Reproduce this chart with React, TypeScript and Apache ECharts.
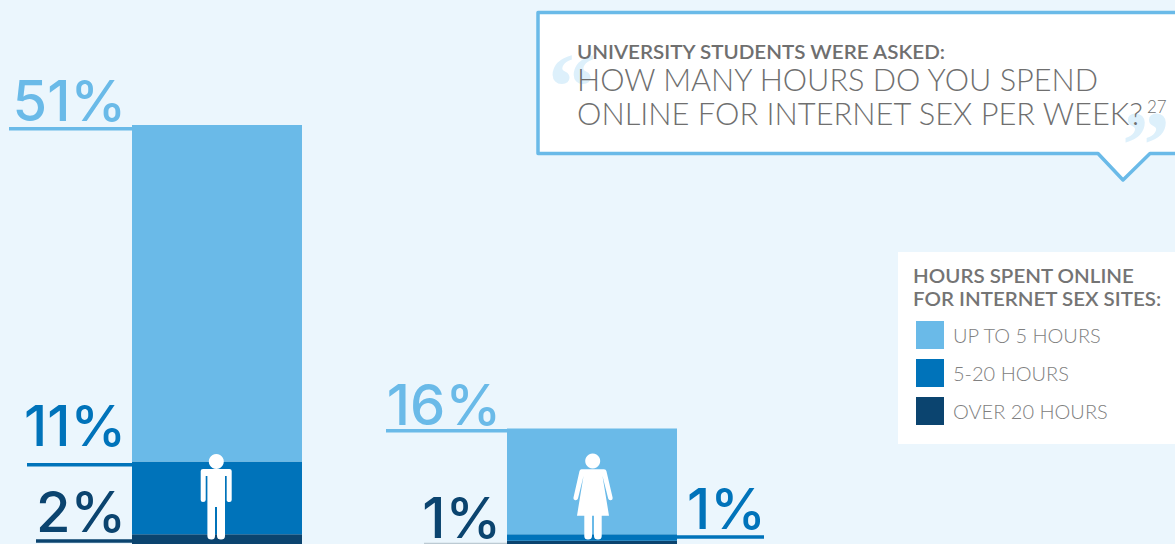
import React, { useEffect, useRef } from "react";
import * as echarts from "echarts";

const categories = ["Men", "Women"];
const upTo5 = [51, 16];
const from5to20 = [11, 1];
const over20 = [2, 1];
const legendNames = ["UP TO 5 HOURS", "5-20 HOURS", "OVER 20 HOURS"];
const colors = ["#6ABAE8", "#0073BA", "#0B446F"];
const BG = "#EBF6FD";
const FONT = "Lato";
const NUM_FONT = "Inter";

// [category index, series index (0 light, 1 mid, 2 dark)]
const annotations = [
  [0, 0],
  [0, 1],
  [0, 2],
  [1, 0],
  [1, 2],
  [1, 1],
];
const seriesValues = [upTo5, from5to20, over20];

// layout per annotation: side, leader length, leader y from the level, label bottom offset from leader
const annotationLayout = [
  { side: -1, len: 123, dy: 2, by: 2, color: colors[0] },
  { side: -1, len: 105, dy: 1.5, by: -9, color: colors[1] },
  { side: -1, len: 96, dy: 5, by: 1, color: colors[2] },
  { side: -1, len: 121, dy: 0.5, by: 4, color: colors[0] },
  { side: -1, len: 83, dy: 2, by: 3, color: colors[2], line: "#BCCAD3" },
  { side: 1, len: 87, dy: 1, by: 2, color: colors[1] },
];

const manPath =
  "M203 469H229.5Q231.7 469 231.7 471V500Q231.7 502 229.5 502Q226.7 502 226.7 500V476H225V536Q225 539.5 221 539.5Q217 539.5 217 536V507H215V536Q215 539.5 211.5 539.5Q207.4 539.5 207.4 536V476H205.7V500Q205.7 502 203 502Q200.7 502 200.7 500V471Q200.7 469 203 469Z";
const womanPath =
  "M581.5 469.3H604Q606 469.3 606.4 471L612.6 497.5Q613 500 610.7 500.3Q608.7 500.5 608.2 498.5L602.5 476L609 515.7H601.7V536Q601.7 539.5 598 539.5Q594 539.5 594 536V515.7H592V536Q592 539.5 588 539.5Q584.3 539.5 584.3 536V515.7H577L583.5 476L578 498.5Q577.4 500.5 575.3 500.3Q573 500 573.5 497.5L579.5 471Q580 469.3 581.5 469.3Z";
const quoteLines = [
  { text: "UNIVERSITY STUDENTS WERE ASKED:", y: 61, size: 20, weight: 600, sx: 1.03 },
  { text: "HOW MANY HOURS DO YOU SPEND", y: 95, size: 31, weight: 300, sx: 0.99 },
  { text: "ONLINE FOR INTERNET SEX PER WEEK?", y: 128, size: 31, weight: 300, sx: 0.995 },
];

echarts.graphic.registerShape("manIcon", echarts.graphic.extendPath(manPath, {}) as any);
echarts.graphic.registerShape("womanIcon", echarts.graphic.extendPath(womanPath, {}) as any);

function barSeries(i: number) {
  return {
    type: "bar",
    name: legendNames[i],
    stack: "total",
    barWidth: 170,
    data: seriesValues[i],
    itemStyle: { color: colors[i] },
    silent: true,
  };
}

function renderAnnotation(params: any, api: any) {
  const cat = api.value(0);
  const level = api.value(1);
  const label = api.value(2);
  const p = api.coord([cat, level]);
  const l = annotationLayout[params.dataIndex];
  const half = 85;
  const lineY = p[1] + l.dy;
  const edge = p[0] + l.side * half;
  const x0 = l.side < 0 ? edge - l.len : edge;
  return {
    type: "group",
    children: [
      {
        type: "rect",
        shape: { x: x0, y: lineY, width: l.len, height: 3.5 },
        style: { fill: l.line || l.color },
      },
      {
        type: "text",
        x: l.side < 0 ? edge - 6 : edge + 10,
        y: lineY + l.by,
        style: {
          text: label + "%",
          fontFamily: NUM_FONT,
          fontSize: 56,
          fontWeight: 500,
          fill: l.color,
          align: l.side < 0 ? "right" : "left",
          verticalAlign: "bottom",
        },
      },
    ],
  };
}

export default function App() {
  const ref = useRef<HTMLDivElement>(null);
  useEffect(() => {
    document.body.style.margin = "0";
    const chart = echarts.init(ref.current!, undefined, { renderer: "svg" });
    const annotationData = annotations.map(([c, s]) => {
      const order = [2, 1, 0].slice(0, 3 - s);
      const top = order.reduce((sum, k) => sum + seriesValues[k][c], 0);
      return [c, top, seriesValues[s][c]];
    });
    chart.setOption({
      animation: false,
      backgroundColor: BG,
      grid: { left: 29.5, width: 750, top: 125, height: 422.4 },
      xAxis: { type: "category", data: categories, show: false },
      yAxis: { type: "value", min: 0, max: 64, show: false },
      legend: {
        data: legendNames,
        orient: "vertical",
        left: 916,
        top: 321,
        padding: 0,
        itemWidth: 28,
        itemHeight: 28,
        itemGap: 10,
        icon: "rect",
        selectedMode: false,
        z: 20,
        textStyle: { fontFamily: FONT, fontSize: 20, fontWeight: 300, color: "#808080", padding: [0, 0, 0, 4] },
      },
      series: [
        barSeries(2),
        barSeries(1),
        barSeries(0),
        {
          type: "custom",
          name: "labels",
          coordinateSystem: "cartesian2d",
          renderItem: renderAnnotation,
          data: annotationData,
          clip: false,
          silent: true,
          z: 5,
        },
      ],
      graphic: [
        {
          type: "polygon",
          z: 1,
          shape: {
            points: [
              [538, 12.5], [1185, 12.5], [1185, 153.5], [1150, 153.5], [1123, 180], [1098, 153.5], [538, 153.5],
            ],
          },
          style: { fill: "#fff", stroke: colors[0], lineWidth: 3.5, lineJoin: "round" },
        },
        { type: "text", z: 2, x: 548, y: 38, style: { text: "\u201C", fontFamily: "Liberation Serif", fontWeight: 700, fontSize: 96, fill: "#DDF0FB" } },
        { type: "text", z: 2, x: 1122, y: 96, style: { text: "\u201D", fontFamily: "Liberation Serif", fontWeight: 700, fontSize: 96, fill: "#DDF0FB" } },
        ...quoteLines.map((q) => ({
          type: "text",
          z: 3,
          x: 577,
          y: q.y,
          scaleX: q.sx,
          style: {
            text: q.text,
            fontFamily: FONT,
            fontSize: q.size,
            fontWeight: q.weight,
            fill: "#6F6F6F",
            verticalAlign: "bottom",
          },
        })),
        { type: "text", z: 3, x: 1147, y: 98, style: { text: "27", fontFamily: FONT, fontWeight: 300, fontSize: 17, fill: "#6F6F6F" } },
        { type: "rect", z: 1, shape: { x: 898, y: 252, width: 290, height: 192 }, style: { fill: "#fff" } },
        { type: "text", z: 3, x: 913, y: 285, scaleX: 1.025, style: { text: "HOURS SPENT ONLINE", fontFamily: FONT, fontWeight: 600, fontSize: 20, fill: "#747474", verticalAlign: "bottom" } },
        { type: "text", z: 3, x: 913, y: 308, scaleX: 1.025, style: { text: "FOR INTERNET SEX SITES:", fontFamily: FONT, fontWeight: 600, fontSize: 20, fill: "#747474", verticalAlign: "bottom" } },
        { type: "circle", z: 6, shape: { cx: 216.3, cy: 461.5, r: 7.5 }, style: { fill: "#fff" } },
        { type: "manIcon", z: 6, style: { fill: "#fff" } },
        { type: "circle", z: 6, shape: { cx: 592.7, cy: 461, r: 7.5 }, style: { fill: "#fff" } },
        { type: "womanIcon", z: 6, style: { fill: "#fff" } },
      ],
    });
    return () => chart.dispose();
  }, []);
  return (
    <div style={{ position: "fixed", left: 0, top: 0, width: 1175, height: 544, overflow: "hidden" }}>
      <div ref={ref} style={{ width: 1175, height: 620 }} />
    </div>
  );
}
